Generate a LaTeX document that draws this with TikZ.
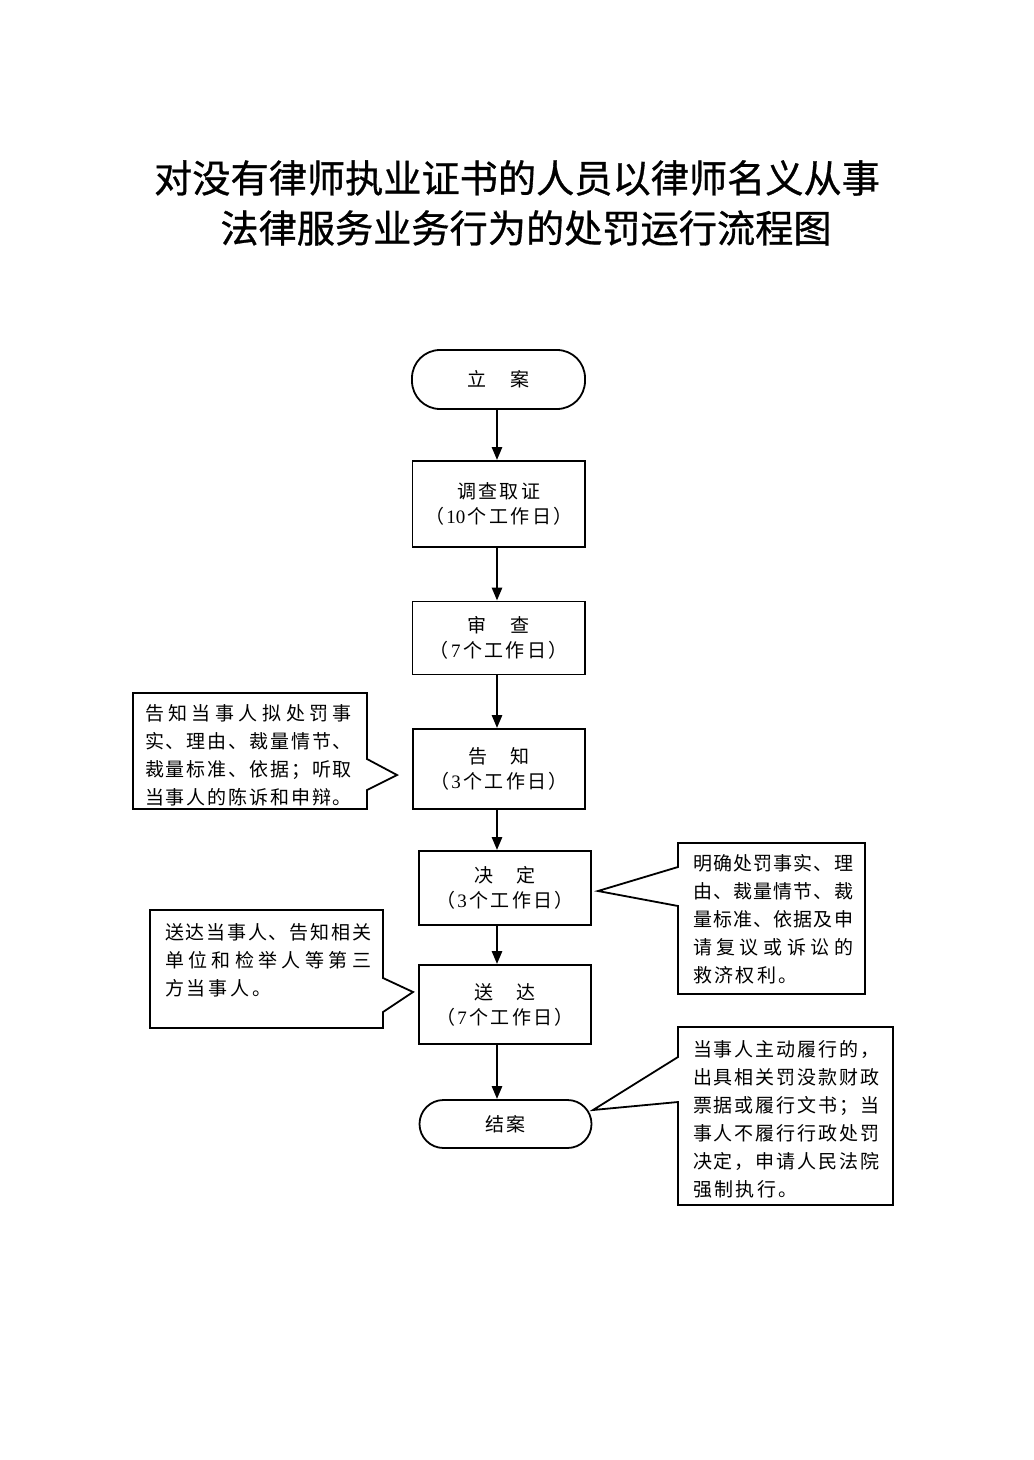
\documentclass[tikz,border=0pt]{standalone}
\usepackage{fontspec}
\setmainfont{Noto Sans CJK SC}
\newfontfamily\ttlfont[FakeBold=0.8]{Noto Sans CJK SC}
\newfontfamily\lat{Liberation Serif}
\usetikzlibrary{arrows.meta}
\def\spx#1{#1\futurelet\nxt\spy}
\def\spy{\ifx\nxt\relax\expandafter\spgob\else\sepx\expandafter\spx\fi}
\def\spgob#1{}
\newcommand\jrow[2]{\hbox to #1{\def\sepx{\hfil}\spx#2\relax}}
\newcommand\krow[2]{\hbox{\def\sepx{\kern#1\relax}\spx#2\relax}}
\begin{document}
\begin{tikzpicture}[x=0.5pt,y=-0.5pt,
  box/.style={draw, line width=0.9pt, inner sep=0pt, align=center,
    font=\fontsize{9.5}{12.5}\selectfont},
  callout/.style={draw, line width=0.9pt},
  ctext/.style={inner sep=0pt, align=left, font=\fontsize{9.5}{14}\selectfont},
  arr/.style={line width=1.3pt, -{Triangle[length=6.5pt,width=5pt]}},
  ttl/.style={inner sep=0pt, font=\ttlfont\fontsize{19.1}{20}\selectfont}]
\useasboundingbox (0,0) rectangle (1033,1460);
% title
\node[ttl] (title1) at (517,178) {对没有律师执业证书的人员以律师名义从事};
\node[ttl] (title2) at (526,228) {法律服务业务行为的处罚运行流程图};
% main boxes
\node[box, rounded corners=14pt, minimum width=86.5pt, minimum height=29.5pt] (start) at (498.5,379.5) {\krow{1.2pt}{立　案}};
\node[box, minimum width=86.25pt, minimum height=43pt] (s1) at (498.75,504) {\krow{1.2pt}{调查取证}\\\krow{1.2pt}{（{{\lat 10}}个工作日）}};
\node[box, minimum width=86.25pt, minimum height=36.5pt] (s2) at (498.75,638) {\krow{1.2pt}{审　查}\\\krow{1.2pt}{（{{\lat 7}}个工作日）}};
\node[box, minimum width=86pt, minimum height=40pt] (s3) at (499,769) {\krow{1.2pt}{告　知}\\\krow{1.2pt}{（{{\lat 3}}个工作日）}};
\node[box, minimum width=86pt, minimum height=37pt] (s4) at (505,888) {\krow{1.2pt}{决　定}\\\krow{1.2pt}{（{{\lat 3}}个工作日）}};
\node[box, minimum width=86pt, minimum height=39.5pt] (s5) at (505,1004.5) {\krow{1.2pt}{送　达}\\\krow{1.2pt}{（{{\lat 7}}个工作日）}};
\node[box, rounded corners=12pt, minimum width=86pt, minimum height=24pt] (end) at (505.5,1124) {\krow{1.2pt}{结案}};
% arrows
\coordinate (ax) at (497,0);
\draw[arr] (start.south -| ax) -- (s1.north -| ax);
\draw[arr] (s1.south -| ax) -- (s2.north -| ax);
\draw[arr] (s2.south -| ax) -- (s3.north -| ax);
\draw[arr] (s3.south -| ax) -- (s4.north -| ax);
\draw[arr] (s4.south -| ax) -- (s5.north -| ax);
\draw[arr] (s5.south -| ax) -- (end.north -| ax);
% callouts
\draw[callout] (133,693) -- (367,693) -- (367,759) -- (397,775) -- (367,790) -- (367,809) -- (133,809) -- cycle;
\node[ctext] (t1) at (248.5,755) {\jrow{103.5pt}{告知当事人拟处罚事}\\\jrow{103.5pt}{实、理由、裁量情节、}\\\jrow{103.5pt}{裁量标准、依据；听取}\\\jrow{103.5pt}{当事人的陈诉和申辩。}};
\draw[callout] (678,843) -- (865,843) -- (865,994) -- (678,994) -- (678,906) -- (598,891) -- (678,867) -- cycle;
\node[ctext] (t2) at (773,919.5) {\jrow{80pt}{明确处罚事实、理}\\\jrow{80pt}{由、裁量情节、裁}\\\jrow{80pt}{量标准、依据及申}\\\jrow{80pt}{请复议或诉讼的}\\\krow{1.2pt}{救济权利。}};
\draw[callout] (150,910) -- (383,910) -- (383,978) -- (413,992) -- (383,1012) -- (383,1028) -- (150,1028) -- cycle;
\node[ctext] (t3) at (268,960.5) {\jrow{103pt}{送达当事人、告知相关}\\\jrow{103pt}{单位和检举人等第三}\\\krow{1.5pt}{方当事人。}};
\draw[callout] (678,1027) -- (893,1027) -- (893,1205) -- (678,1205) -- (678,1102) -- (593,1110) -- (678,1057) -- cycle;
\node[ctext] (t4) at (786,1119.5) {\jrow{93pt}{当事人主动履行的，}\\\jrow{93pt}{出具相关罚没款财政}\\\jrow{93pt}{票据或履行文书；当}\\\jrow{93pt}{事人不履行行政处罚}\\\jrow{93pt}{决定，申请人民法院}\\\krow{1.2pt}{强制执行。}};
\end{tikzpicture}
\end{document}
